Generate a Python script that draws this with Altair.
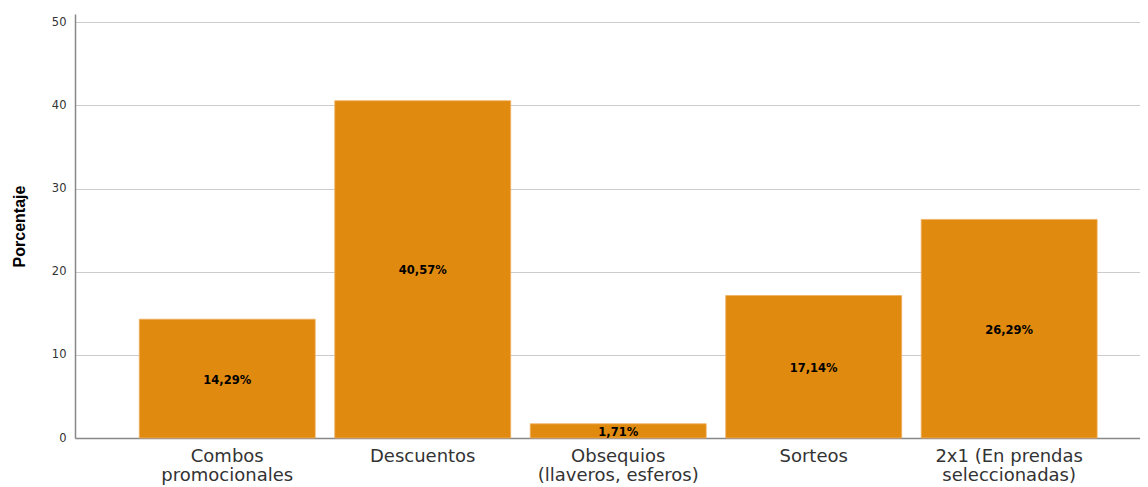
import altair as alt
import pandas as pd

categories = ["Combos|promocionales", "Descuentos", "Obsequios|(llaveros, esferos)", "Sorteos", "2x1 (En prendas|seleccionadas)"]
values = [14.29, 40.57, 1.71, 17.14, 26.29]
labels = [f"{v:.2f}".replace(".", ",") + "%" for v in values]

df = pd.DataFrame({"cat": categories, "val": values, "lab": labels})
df["mid"] = df["val"] / 2

FONT = "DejaVu Sans, Arial, sans-serif"
TFONT = "Arial, Liberation Sans, sans-serif"

xscale = alt.Scale(paddingInner=0.1, paddingOuter=0.274, align=0.6)
yscale = alt.Scale(domain=[0, 51], nice=False)

base = alt.Chart(df)

bars = base.mark_bar(color="#E08A10", stroke="#F0B060", strokeWidth=0.8).encode(
    x=alt.X("cat:N", sort=None, scale=xscale,
            axis=alt.Axis(title=None, labelExpr="split(datum.label, '|')", labelAngle=0,
                          labelFontSize=18, labelFont=FONT, labelColor="#333333",
                          labelPadding=9, ticks=False, domainColor="#888888",
                          domainWidth=1.5, labelLineHeight=19, labelBaseline="top")),
    y=alt.Y("val:Q", scale=yscale,
            axis=alt.Axis(title="Porcentaje", values=[0, 10, 20, 30, 40, 50],
                          grid=True, gridColor="#CCCCCC", ticks=False,
                          labelFontSize=11.5, labelFont=FONT, labelColor="#333333",
                          labelPadding=9, domainColor="#888888", domainWidth=1.5,
                          titleFont=TFONT, titleFontSize=16, titleFontWeight="bold",
                          titleColor="#000000", titlePadding=24)),
)

text = base.mark_text(fontSize=11.5, fontWeight="bold", font=FONT, color="#000000",
                      baseline="middle", align="center", dy=2).encode(
    x=alt.X("cat:N", sort=None, scale=xscale),
    y=alt.Y("mid:Q", scale=yscale),
    text="lab:N",
)

chart = (bars + text).properties(
    width=1065, height=424,
    autosize=alt.AutoSizeParams(type="none"),
    padding={"left": 67, "top": 6, "right": 0, "bottom": 50},
).configure_view(stroke=None)

chart.save("out.html", embed_options={"renderer": "svg", "actions": False})
